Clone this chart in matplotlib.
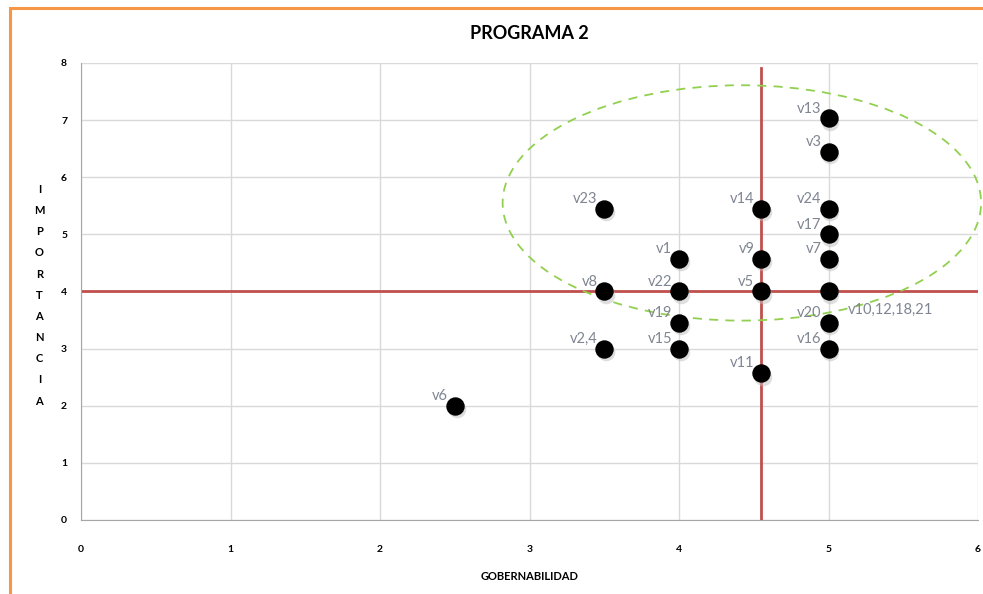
import numpy as np
import matplotlib.pyplot as plt
from matplotlib.patches import Ellipse, Rectangle

plt.rcParams['font.family'] = ['Lato', 'DejaVu Sans']

## data
labels = ['v13', 'v3', 'v23', 'v14', 'v24', 'v17', 'v1', 'v9', 'v7', 'v8', 'v22',
          'v5', 'v10,12,18,21', 'v19', 'v20', 'v2,4', 'v15', 'v16', 'v11', 'v6']
gob = [5, 5, 3.5, 4.55, 5, 5, 4, 4.55, 5, 3.5, 4,
       4.55, 5, 4, 5, 3.5, 4, 5, 4.55, 2.5]
imp = [7.03, 6.45, 5.45, 5.45, 5.45, 5.0, 4.57, 4.57, 4.57, 4.0, 4.0,
       4.0, 4.0, 3.45, 3.45, 3.0, 3.0, 3.0, 2.57, 2.0]

# quadrant lines and cluster ellipse
xCut = 4.55
yCut = 4.0
ellCenter = (4.42, 5.55)
ellWidth = 3.2
ellHeight = 4.12

## figure
fig = plt.figure(figsize=(9.83, 5.94), dpi=100)
ax = fig.add_axes([0.0824, 0.1246, 0.9126, 0.7694])

# orange frame of the chart area
fig.patches.append(Rectangle((0.010, -0.05), 1.2, 1.037, transform=fig.transFigure,
                             fill=False, edgecolor='#f79646', linewidth=2.2))

ax.set_xlim(0, 6)
ax.set_ylim(0, 8)
ax.set_xticks(range(7))
ax.set_yticks(range(9))
ax.grid(True, color='#d9d9d9', linewidth=1)
ax.set_axisbelow(True)
for s in ['top', 'right']:
    ax.spines[s].set_visible(False)
for s in ['left', 'bottom']:
    ax.spines[s].set_color('#a6a6a6')
ax.tick_params(axis='x', length=0, labelsize=7.5, pad=18)
ax.tick_params(axis='y', length=0, labelsize=7.5, pad=10)
for t in ax.get_xticklabels() + ax.get_yticklabels():
    t.set_fontweight('bold')

ax.plot([xCut, xCut], [0, 7.92], color='#c0504d', linewidth=2, zorder=2)
ax.plot([0, 6], [yCut, yCut], color='#c0504d', linewidth=2, zorder=2)

ax.add_patch(Ellipse(ellCenter, ellWidth, ellHeight, fill=False, edgecolor='#92d050',
                     linestyle=(0, (5, 4)), linewidth=1.3, zorder=3, clip_on=False))

# points with a soft shadow
ax.scatter(np.array(gob) + 0.012, np.array(imp) - 0.06, s=160, color='#bfbfbf',
           alpha=0.5, zorder=4, linewidths=0)
ax.scatter(gob, imp, s=150, color='black', zorder=5)

for lab, x, y in zip(labels, gob, imp):
    if lab == 'v10,12,18,21':
        ax.annotate(lab, (x, y), xytext=(14, -18), textcoords='offset points',
                    ha='left', va='bottom', fontsize=10.5, color='#7f8591', zorder=6)
    else:
        ax.annotate(lab, (x, y), xytext=(-5, 2), textcoords='offset points',
                    ha='right', va='bottom', fontsize=10.5, color='#7f8591', zorder=6)

ax.set_title('PROGRAMA 2', fontsize=13, fontweight='bold', pad=17)
ax.set_xlabel('GOBERNABILIDAD', fontsize=8, fontweight='bold', labelpad=12)

# stacked vertical axis title
fig.text(0.040, 0.503, '\n'.join('IMPORTANCIA'), ha='center', va='center',
         fontsize=8, fontweight='bold', linespacing=2.13)

fig.savefig('out.png', dpi=100)
